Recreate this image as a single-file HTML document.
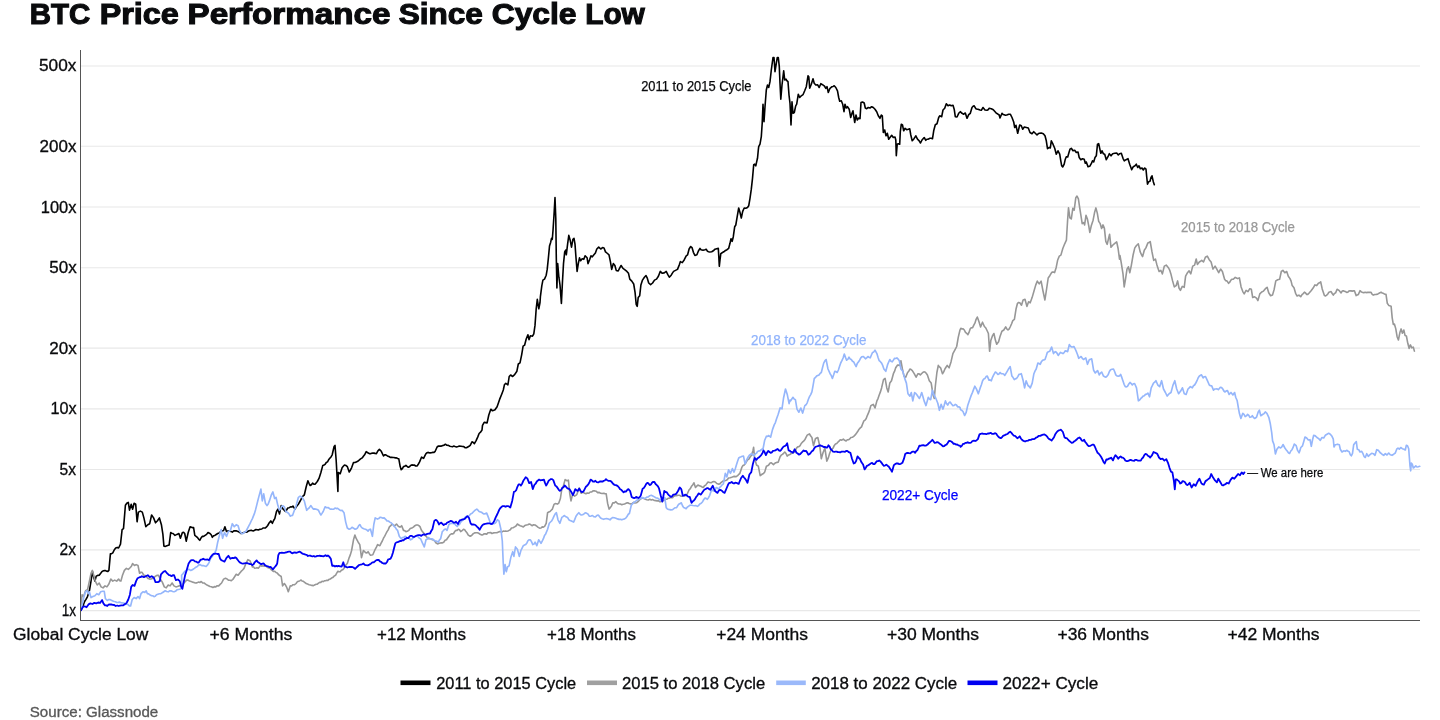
<!DOCTYPE html>
<html lang="en"><head><meta charset="utf-8"><title>BTC Price Performance Since Cycle Low</title>
<style>
html,body{margin:0;padding:0;background:#fff;}
body{width:1440px;height:720px;overflow:hidden;position:relative;font-family:"Liberation Sans",sans-serif;color:#0a0b0d;}
svg{position:absolute;left:0;top:0;}
svg text{font-family:"Liberation Sans",sans-serif;fill:#0a0b0d;}
.title{font-size:28.8px;font-weight:700;stroke:#0a0b0d;stroke-width:1.1px;}
.grid line{stroke:#e8e8e8;stroke-width:1.1;}
.yl{font-size:15.6px;stroke:#0a0b0d;stroke-width:0.3px;}
.xl{font-size:15.6px;stroke:#0a0b0d;stroke-width:0.3px;}
.lg{font-size:15.8px;stroke:#0a0b0d;stroke-width:0.3px;}
.an{font-size:14.1px;stroke-width:0.25px;}
.an2{font-size:12.3px;stroke-width:0.25px;}
svg text.src{font-size:14px;fill:#585858;stroke:#585858;stroke-width:0.3px;}
.ln{fill:none;stroke-linejoin:round;stroke-linecap:round;}
</style></head><body>
<svg width="1440" height="720" viewBox="0 0 1440 720">
<g class="grid">
<line x1="81" x2="1420" y1="66.03" y2="66.03"/>
<line x1="81" x2="1420" y1="146.32" y2="146.32"/>
<line x1="81" x2="1420" y1="207.06" y2="207.06"/>
<line x1="81" x2="1420" y1="267.8" y2="267.8"/>
<line x1="81" x2="1420" y1="348.09" y2="348.09"/>
<line x1="81" x2="1420" y1="408.83" y2="408.83"/>
<line x1="81" x2="1420" y1="469.57" y2="469.57"/>
<line x1="81" x2="1420" y1="549.86" y2="549.86"/>
<line x1="81" x2="1420" y1="610.6" y2="610.6"/>
</g>
<path class="ln" stroke="#000" stroke-width="1.6" d="M81.1 610.2 L82.3 606.9 L83.4 604.8 L84.6 601.5 L86 599.4 L87.5 596.6 L89.4 590.8 L91 581.1 L92.4 571.4 L93.7 577.2 L94.9 581.1 L96.2 576.2 L97.7 575.4 L99.2 575.2 L100.7 573.3 L102.1 571.4 L103.5 570.8 L105 570.4 L106.5 571.1 L107.9 571.4 L108.9 570.4 L110.4 553.9 L111.6 553.7 L112.8 552.9 L114.2 550 L115.7 548 L117.2 547.4 L118.6 548 L120.5 544.1 L122.1 529.6 L123.5 528.6 L125.4 505.3 L126.8 503.3 L128.3 502.4 L129.5 510.1 L131.2 504.3 L132.6 509.2 L134.1 503.3 L135.7 504.3 L137.1 521.8 L138.4 512.1 L140.4 511.1 L142.3 512.1 L143.9 517.9 L145.8 526.7 L147.8 524.7 L149.7 523.7 L151.6 515 L153.6 517.9 L155.5 522.8 L157.5 520.8 L159.4 517.9 L161.4 524.7 L162.9 534.4 L163.9 546.1 L165.1 546.5 L166.2 546.1 L167.6 545.5 L169.1 545.1 L170.7 532.5 L171.8 533.3 L173 533.5 L175 535.4 L176.9 534.4 L178.9 533.5 L180.4 538.3 L182.4 532.5 L183.6 532.4 L184.7 533.5 L186.2 541.2 L188.2 532.5 L190.1 526.7 L192.1 527.6 L193.6 527.6 L194.8 535.4 L196.1 536.3 L197.3 537.3 L198.6 539.1 L199.8 540.3 L201 538 L202.2 536.4 L203.6 536.4 L205.1 535.4 L206.6 534.4 L208 532.5 L210 533.5 L211.2 534.8 L212.3 537.3 L213.6 535.8 L214.8 535.4 L216.2 534.5 L217.7 533.5 L219.1 533 L220.6 531.5 L222.1 530.9 L223.6 530.5 L224.9 526.7 L226.5 531.5 L227.9 530.9 L229.4 530.9 L230.9 531.4 L232.3 532.1 L233.8 530.9 L235.2 530.9 L236.6 530.9 L238.1 531.5 L239.6 532.4 L241.1 533.5 L242.6 533 L244 532.5 L245.4 532 L246.9 532.1 L248.4 531 L250 530.5 L251.2 530.3 L252.3 530.7 L253.5 530.9 L254.7 530.2 L255.9 529.5 L257.1 529.7 L258.3 529.9 L259.4 529.4 L260.6 529.2 L261.8 529 L263 528 L264.2 528 L265.4 528 L266.5 526.9 L267.7 525.5 L268.9 523.3 L270.8 520.9 L272.4 523.3 L273.6 520.5 L274.8 518.6 L276.5 511.5 L277.9 509.1 L279.5 513.9 L281.2 505.6 L283.1 509.1 L284.2 510.1 L285.4 511.5 L286.6 510 L287.8 508 L289.2 507.7 L290.6 506.8 L291.8 507 L293 506.1 L294.9 509.1 L296 507.3 L297.2 505.6 L298.4 504.2 L299.6 502 L300.8 499.9 L302 497.3 L303.1 495.9 L304.3 495 L306.2 486.7 L307.9 480.8 L309 483.3 L310.2 485.5 L311.4 484.8 L312.6 483.1 L313.8 484.1 L315 484.3 L316.1 482.9 L317.3 481.5 L319 478.4 L320.9 472.5 L322.8 465.4 L324 465 L325.1 464.3 L326.3 462.5 L327.5 461.9 L328.6 459.8 L329.8 458.3 L331 456.9 L332.2 454.8 L334.1 446.5 L335 445.4 L336.2 460.7 L337.9 491.4 L338.3 472.5 L340.2 473.7 L342.1 467.8 L343.3 466.3 L344.5 465 L345.9 465.4 L347.3 466.6 L349.2 472 L350.4 470 L351.6 467.8 L353.5 462.6 L354.9 462.5 L356.3 461.9 L357.7 461.3 L359.1 460.2 L360.6 458.9 L362.2 457.9 L363.4 456.3 L364.6 454.8 L366.2 451.7 L367.8 452.7 L369.3 453.6 L370.5 453.8 L371.6 453.3 L372.8 453.1 L374 453.1 L375.2 453.4 L376.4 453.6 L377.9 450.9 L379.4 449.4 L381.3 451.3 L383.5 456 L384.6 454.9 L385.8 454.8 L387.4 455.9 L388.9 456.5 L390.3 457.4 L391.7 457.2 L392.9 457.5 L394.1 457.5 L395.3 457.9 L396.5 457.8 L397.6 458.5 L398.8 458.8 L400.2 466.6 L401.2 469.7 L402.4 468.7 L403.5 466.6 L404.7 466.3 L405.9 465.4 L407.1 466.4 L408.3 467.3 L409.5 466.8 L410.6 465.4 L411.8 464.9 L413 465.1 L414.2 465 L415.7 466 L417.2 465.9 L418.4 464 L419.6 461.9 L421.5 457.2 L423.6 458.3 L424.8 455.9 L426 453.6 L427.1 452.7 L428.3 452.4 L430 452.9 L431.4 452.7 L432.8 452.4 L434 452.4 L435.2 451.3 L437.1 447 L438.5 446 L439.9 446.1 L441.4 446.1 L443 445.4 L444.2 445.2 L445.4 444.2 L446.9 445.3 L448.4 445.4 L449.9 446.2 L451.3 446.5 L452.5 446.7 L453.6 446.1 L455.1 446.6 L456.5 447 L458 446.6 L459.5 446.1 L461.1 446.2 L462.6 446.5 L463.8 446.6 L465 447.7 L466.4 447.8 L467.8 447 L469 446.3 L470.2 445.4 L472 441.8 L473.2 442.4 L474.4 443.7 L476.1 440.6 L477.7 437.1 L479.1 433.5 L480.8 431.9 L482 430 L482.5 425.4 L484.2 422.3 L485.6 422.6 L487.1 422.9 L488.8 415 L490.8 409.2 L492.5 410.8 L493.8 410.3 L495 409.8 L497.1 406.7 L498.4 402.9 L499.6 399.4 L501.7 394.2 L503.3 390 L504.4 384.8 L505.8 383.3 L507.9 384.8 L509.2 376.5 L510.6 375 L512.7 376.5 L514.8 374.4 L516.9 371.2 L518.3 364 L520 362.9 L521.7 354.6 L523.1 346.2 L524.6 345.2 L526.2 339 L527.9 334.8 L529 339.6 L530.4 335.8 L532.5 336.2 L533.8 333.8 L535 325.4 L536.2 308.8 L537.3 299.4 L538.8 308.8 L540 302.5 L540.4 296.6 L541.8 285.9 L542.9 280.1 L544.5 279.1 L546.2 275.2 L547.2 269.4 L548.4 257.8 L549.5 246.1 L550.7 242.2 L551.5 238.3 L552.3 239.3 L553 230.5 L554 215 L555 197.5 L555.8 218.9 L556.3 257.8 L556.9 287.9 L557.7 263.6 L558.9 277.2 L560 285 L561.4 303.4 L562.4 283 L563.5 263.6 L564.7 251.9 L565.7 250 L566.3 254.8 L567.6 244.1 L568.8 235.4 L570.2 240.3 L571.5 247.1 L572.9 239.3 L574 238.3 L575 244.1 L576 257.8 L577.1 271.4 L578.3 263.6 L579.5 257.8 L580.6 260.7 L582.2 258.7 L583.8 259.3 L585.1 255.8 L587.1 257.8 L588 263.6 L589.6 259.7 L591 255.8 L592.3 256.8 L593.9 254.8 L595.4 252.9 L596.8 249 L598.7 247.1 L600.7 249 L602.6 247.6 L604 248 L605.5 251.9 L607.5 253.5 L609 254.8 L610.4 261.6 L611.7 269.4 L613.3 263.6 L614.9 265.5 L616.2 270.4 L618.2 271 L619.5 268.4 L621.1 265.5 L623 268.4 L625 269.8 L626.9 271.4 L628.5 273.3 L629.8 279.1 L631.8 281.1 L633.7 284 L635.1 292.7 L636.2 304.4 L637.2 306.3 L638.2 297.6 L639.7 295.7 L640.9 285 L642.5 280.1 L644.4 277.2 L646 275.6 L647.3 278.2 L648.7 283 L650.6 284.6 L652.6 283 L654.5 280.1 L656.5 279.1 L658.4 276.2 L660.3 271.4 L662.3 273.3 L664.2 272.9 L666.2 271.4 L667.7 274.3 L669.3 277.2 L671.2 275.2 L672.4 273.1 L673.6 271.4 L675.5 270.4 L677.5 269.4 L679.4 264.6 L680.4 261.6 L682.3 262.6 L684.3 259.7 L686.2 255.8 L687.6 254.8 L689.1 249 L690.7 246.5 L692 247.6 L693.4 252.3 L694.9 255.4 L696.9 254.8 L698.4 251 L700 248.4 L701 249.7 L703 250.3 L705 249.7 L706.2 249.2 L707.5 251.3 L708.6 251.7 L709.7 252 L711.7 251.7 L713.3 250.8 L715 249.2 L716.7 248.7 L718.3 248.3 L718.8 256.7 L719.3 266.3 L720 260 L720.8 253.7 L722.5 252.5 L723.8 251.8 L725 250.8 L727 249.7 L728.7 248.3 L730 243.3 L731 238.7 L732.2 241.3 L733.3 236.7 L734.7 226.7 L735.8 225 L737.2 216.7 L738.7 208 L740 212.5 L741.3 218 L742.7 211.3 L744.2 208 L745.8 208.3 L747.5 207.5 L748.7 205.8 L750 198.3 L751.3 189.2 L752.5 178.3 L753.7 164.7 L754.7 164.2 L755.8 165.8 L756.7 161.7 L757.5 158.3 L758.3 150 L758.7 146.7 L760 144.2 L761.3 136.7 L762.2 123.3 L763 104.2 L764 121.7 L765 106.7 L766.3 90 L767.5 85 L768.7 87.5 L770 81.7 L771.3 70 L773 57.5 L774 57.5 L775 71.7 L776.3 63.3 L777.3 57.5 L778.3 57.5 L779.3 66.7 L780 83.3 L780.8 99.2 L782 85 L783.7 70.8 L784.7 80 L786 79.2 L787 80.8 L788 81.7 L789 95 L790 103.3 L791 125 L792 101.7 L793 113.3 L794.3 112.5 L795.7 105.8 L796.7 104.2 L798.3 94.2 L799.7 97.5 L801.3 95.8 L803 94.7 L804.7 90.8 L806.3 86.7 L808 75.8 L808.8 76.7 L809.7 88.3 L811.3 84.2 L813 78.7 L814.2 83.3 L815.8 85 L817.5 84.7 L819.2 87.5 L820.8 83.7 L822.5 84.7 L824.2 85.8 L825.8 88.3 L827 86.7 L828.3 92.5 L830 88.3 L832 86.7 L833.1 86.4 L834.2 85.8 L835.8 87.5 L837.5 90.8 L838.7 97.5 L839.7 101.3 L841.3 100.8 L842.7 104.2 L844 111.7 L845 104.2 L846.3 108 L847.5 106.7 L849.2 109.2 L850.7 117.5 L852 113.3 L853 110.8 L854.7 122.5 L856 115 L857.3 120 L858.7 118 L860 118.7 L861 102.5 L862.5 102 L864.2 103 L865.3 108 L866.7 108.7 L868.3 107.5 L870 108 L871.7 106.7 L873.3 107.5 L875 109.2 L876.7 111.7 L878.3 115.8 L880 118.3 L881.3 115 L882.3 115.8 L883.3 132.5 L884.7 130 L886 135.8 L887.3 133.3 L888.7 139.2 L890 137.5 L891.7 135.3 L893.3 137.5 L895 137 L895.8 140 L896.3 155.8 L897.2 144.2 L898.3 143.7 L899.7 144.2 L900.3 131.7 L901.3 124.2 L902.5 125 L903.7 130.8 L905 128.3 L906.7 129.7 L908.3 129.2 L909.7 128.7 L910.8 135 L912.2 140.8 L913.7 139.2 L915.8 135.8 L917.5 139.2 L919.2 140.8 L920.5 143 L922 140 L923.1 138.7 L924.2 137.5 L925.8 140.3 L926.9 139.2 L928 139.2 L930 138.3 L931.2 138.2 L932.5 138.7 L933.7 130.8 L935.3 124.7 L937 123.7 L938.7 117.5 L939.7 115.8 L941.7 116.7 L943 110 L944.7 108.3 L946.3 103.7 L948 105.8 L949.7 105 L951.3 105.8 L953 105.3 L954.2 109.2 L955.3 116.7 L957 117 L958.7 113.3 L960.3 111.7 L962 113.3 L963.7 114.2 L965.3 113 L967 118.3 L968.7 114.7 L970.3 113.3 L972 107.5 L973.1 106.3 L974.2 105.8 L975.8 108.7 L976.9 109.1 L978 109.2 L980 110 L981.3 110.3 L983 107.5 L985 110 L987 110.3 L988.1 109.7 L989.2 108.3 L991.3 108.7 L993.3 109.7 L995.3 112 L996.4 113.3 L997.5 113.8 L999.2 115 L1000 118 L1002 113.3 L1003.1 114.4 L1004.2 114.7 L1005.5 115.2 L1006.7 115 L1008.7 114.2 L1010.3 114.2 L1012 117.5 L1013.7 122 L1014.7 127.5 L1016 125.3 L1017.7 133.3 L1019.7 125 L1021.3 125.8 L1022.7 129.2 L1024.3 127 L1026.3 127.5 L1028.3 128 L1030 132.5 L1032 133.7 L1033.7 131.7 L1035.3 133.3 L1037 135 L1038.1 133.9 L1039.2 133.3 L1041.3 133 L1043.3 133.7 L1045 135.8 L1046.3 140.8 L1047.5 148.7 L1049.2 147.5 L1050.3 148 L1051.3 140.8 L1053 144.2 L1054.7 148.3 L1056.3 154.2 L1058 150.8 L1059.7 154.2 L1060.8 160.8 L1061.7 165.8 L1062.7 167 L1064.2 164.2 L1065.3 159.2 L1066.3 156.7 L1067.7 157 L1069.2 151.7 L1070 149.2 L1071.3 148.3 L1073 150.8 L1074.7 150.3 L1076.3 152.5 L1078 152 L1079.2 157.5 L1080.8 159.7 L1082.5 158.7 L1084.2 159.2 L1085.3 163.3 L1086.3 162 L1088 166.7 L1089.7 166.3 L1091.3 163.7 L1092.5 160.8 L1093.7 162 L1095 157.5 L1096.3 155.8 L1097.5 144.2 L1098.7 143.7 L1099.7 148.3 L1100.8 153.3 L1102 150.8 L1103.3 153.7 L1104.7 154.2 L1106.3 159.7 L1108 156.7 L1109.3 153.7 L1111 155.8 L1112.7 153.7 L1114.7 153.3 L1116.7 153 L1118.3 155 L1119.7 153.7 L1121.3 153.3 L1123 158.3 L1124.3 160.8 L1126 159.7 L1128 158.7 L1129.7 164.2 L1131.7 169.7 L1133.3 166.7 L1135 165.8 L1136.3 164.2 L1137.7 167.5 L1139 165.8 L1140.3 168.7 L1142 168 L1143.3 170 L1144.7 168 L1146 169.2 L1146.7 176.7 L1147.5 184.2 L1148.7 181.7 L1150 181.3 L1151 177.5 L1152 175.8 L1153.3 181.7 L1154.3 184.7"/>
<path class="ln" stroke="#979797" stroke-width="1.6" d="M81.1 604.4 L82.1 594.7 L83.6 596.6 L85.6 590.8 L87.5 589.8 L89.4 581.1 L91 573.3 L92.4 570.4 L93.7 575.2 L95.3 581.1 L97.2 585 L99.2 583 L101.1 586.9 L103 587.9 L105 585.9 L106.9 586.9 L108.9 584 L110.8 579.1 L112.8 581.1 L114.7 580.1 L116.7 581.1 L118.6 579.1 L119.8 580.7 L120.9 581.1 L122.5 575.2 L124.4 570.4 L126.4 568.4 L128.3 569.4 L130.3 567.5 L131.4 566.2 L132.6 563.6 L134.5 565.5 L136.1 564.6 L138 565.5 L139.6 573.3 L140.8 572.2 L141.9 572.3 L143.9 575.2 L145.4 575.6 L146.8 577.2 L148.2 578.6 L149.7 579.1 L151.1 579 L152.6 578.2 L154.1 577.4 L155.5 576.2 L156.9 575.4 L158.4 575.2 L160.4 579.1 L162.3 582.1 L164.3 586.9 L166.2 587.9 L168.2 585 L170.1 585.9 L172.1 583 L174 585.9 L175.9 586.9 L177.4 586.5 L178.9 585.9 L180.4 585.6 L181.8 585 L183.2 583.7 L184.7 582.1 L186.6 580.1 L188.1 580.1 L189.5 581.1 L191 581.5 L192.5 582.1 L193.9 582.4 L195.4 583 L196.9 582.9 L198.3 582.1 L199.8 582.5 L201.2 581.5 L202.6 582.9 L204.1 583 L205.6 584.1 L207 585 L208.5 585.7 L210 586.5 L211.4 586.7 L212.9 587.5 L214.4 586.6 L215.8 586.9 L217.2 585.7 L218.7 585.9 L220.1 584.4 L221.6 583 L223.6 579.1 L225.5 578.2 L226.9 578.9 L228.4 580.1 L229.9 580.2 L231.3 580.7 L232.8 579.5 L234.3 577.2 L236.2 574.3 L238.1 575.2 L239.6 573.3 L241.1 571.4 L242.6 570 L244 568.4 L245.9 563.6 L247.9 559.7 L250 560.7 L251.2 563.5 L252.4 567 L253.6 566.9 L254.7 568.2 L255.9 568 L257.1 567.7 L258.3 568.2 L259.5 566.7 L260.6 565.1 L261.8 566.1 L263 565.8 L264.2 566.3 L265.3 565.8 L266.5 566.5 L267.7 567.6 L268.9 568 L270.1 568.2 L271.2 569.7 L272.4 570.6 L273.6 571.5 L274.8 571.3 L276 572.5 L277.2 572.9 L278.4 574.5 L279.5 575.3 L281.2 576.5 L282.6 585.9 L284.3 583.5 L285.5 585.1 L286.6 587.1 L288.3 591.8 L290.2 585.9 L291.6 586 L293 584.7 L294.6 584.7 L296.1 583.5 L297.2 581.9 L298.4 581.2 L299.6 581 L300.8 580 L302 580.9 L303.1 581.2 L304.6 582.3 L306.2 583.5 L307.6 584.1 L309.1 584.7 L310.5 585 L311.9 585.4 L313.4 585.6 L315 584.7 L316.2 584.2 L317.3 584.1 L318.5 583.1 L319.7 582.3 L320.8 582.4 L322 581.2 L323.2 581.6 L324.4 580.8 L325.6 580.7 L326.8 580.3 L327.9 580.4 L329.1 579.3 L330.3 579 L331.5 578.1 L332.7 577.6 L334.1 576.1 L335.5 575.3 L336.7 573.1 L337.9 571.3 L339 571.8 L340.2 571.7 L341.4 570.3 L342.6 569.8 L343.8 568.7 L345 566.5 L346.1 564.7 L347.3 563.5 L349.2 557.6 L350.4 554.6 L351.6 550.5 L353.5 539.8 L354.9 535.1 L356.3 538.7 L358.2 542.2 L359.8 544.6 L361.5 557.6 L363.4 550.5 L364.5 551.4 L365.7 552.8 L366.9 552.9 L368.1 551.7 L369.3 553.7 L370.5 555.2 L371.6 555 L372.8 554.7 L374 552 L375.2 549.3 L376.4 547.2 L377.6 544.6 L378.8 545.3 L379.9 545.7 L381.1 543.1 L382.3 541 L383.5 538.2 L384.6 536.3 L385.8 534 L387 531.6 L388.2 529.9 L389.4 526.9 L390.5 525.9 L391.7 524.5 L392.9 524.5 L394.1 525.7 L395.3 525.3 L396.5 524 L397.9 525.8 L399.3 526.9 L400.5 526.9 L401.7 525.7 L403.5 530.4 L404.7 530.6 L405.9 531.6 L407.3 531.3 L408.7 530.4 L410.2 528.6 L411.8 528 L413.4 527.1 L414.9 525.7 L416.3 525 L417.7 525 L418.9 525.6 L420.1 526.9 L421.2 529.8 L422.4 531.6 L423.6 532.8 L424.8 535.1 L426 536.3 L427.2 537.5 L428.6 538.6 L430 538.7 L431.2 538.9 L432.4 539.8 L433.5 540 L434.7 541 L436.1 543 L437.6 543.9 L439.1 543.3 L440.6 542.9 L442.1 542.9 L443.7 542.2 L445.1 540.3 L446.5 539.8 L447.7 537.9 L448.9 536.3 L450.1 534.6 L451.3 533.9 L452.5 533.9 L453.6 533.5 L454.8 531.4 L456 530.4 L457.1 530.4 L458.3 529.2 L459.5 529.7 L460.7 531.6 L462.1 530.7 L463.5 529.2 L464.7 529.7 L465.9 531.6 L467.1 533 L468.3 535.1 L470.2 536.3 L471.6 535.5 L473 533.9 L474.6 532.9 L476.1 532.8 L477.6 532.7 L479.1 533.5 L480.6 534.6 L482 535.1 L483.2 534.5 L484.3 533.7 L485.5 533.9 L486.7 534.2 L487.9 532.7 L489.1 532.8 L490.5 532.5 L491.9 533.5 L493.4 532.9 L495 532.8 L496.2 532.7 L497.3 532.6 L498.5 532 L499.7 531.5 L500.8 531.8 L502 532 L503.2 531 L504.4 531.3 L505.6 531.1 L506.8 531.2 L507.9 531 L509.1 530.4 L510.3 529.8 L511.5 528 L513 527.8 L514.6 526.9 L516 526 L517.4 524 L518.8 525.1 L520.2 525.7 L521.8 526.3 L523.3 526.9 L524.8 525.6 L526.4 525 L527.8 524.7 L529.2 524 L530.6 524.6 L532 525.7 L533.5 524.8 L535.1 525 L536.7 526.1 L538.2 527.3 L539.6 528.2 L541 528 L542.2 526.9 L543.4 527.1 L544.6 526.4 L546.2 523.3 L547.6 512.7 L548.8 512 L550 511.5 L551.2 510.3 L552.4 509.1 L554 504.4 L555.2 503.6 L556.4 503.7 L557.5 504.1 L558.7 503.2 L560.4 498.5 L561.8 489.1 L563.5 485.5 L565.1 479.6 L567 480.8 L568.4 480.1 L569.8 493.8 L571 500.9 L572.4 495 L573.5 495.2 L574.6 496.1 L575.8 495.3 L576.9 494.3 L578.1 491 L579.3 487.9 L581.2 493.3 L582.4 492.3 L583.5 492.6 L584.7 493.3 L585.9 493.8 L587.3 493 L588.7 493.3 L590.2 492 L591.8 491.9 L593.3 490.7 L594.9 490.9 L596.3 491.3 L597.7 492.6 L599.2 492.4 L600.6 493.3 L602.1 493.5 L603.6 493.3 L604.9 493.6 L606.2 493.8 L607.6 503.2 L609.1 509.1 L610 508 L611.4 506.1 L612.8 502.8 L614.3 502.9 L615.9 501.7 L617.5 503.5 L619 504 L620.4 504 L621.8 504.7 L623.2 504.3 L624.6 504 L626.2 503.1 L627.7 502.8 L629.2 503.5 L630.8 504 L632.2 503.4 L633.6 502.4 L635 503 L636.5 502.8 L638 501.7 L639.5 500 L641 498.7 L642.6 498.1 L644 498.6 L645.4 499.3 L646.8 499.7 L648.3 500 L649.8 499.3 L651.3 500 L652.8 499.6 L654.4 500.5 L655.8 500.6 L657.2 500.9 L658.4 500.6 L659.6 501.7 L660.8 501.7 L662.3 500.7 L663.9 500.5 L665.3 499.3 L666.7 499.3 L668.1 498.3 L669.5 498.1 L671 497.5 L672.6 497.6 L673.8 496.3 L675 495.7 L676.2 495.6 L677.3 495.4 L678.5 495.3 L679.7 495.3 L680.8 496.1 L682 496.2 L683.5 495.5 L685.1 495.7 L686.3 495.1 L687.5 493.4 L689.1 489.8 L690.3 488.7 L691.5 486.3 L692.7 484.9 L693.9 482.8 L695.5 487.5 L696.7 486.2 L697.9 485.1 L699.4 485.7 L700.9 486.3 L702.1 487 L703.3 487.5 L704.5 485.7 L705.7 485.1 L706.9 483.4 L708 482 L709.5 482.4 L711.1 482.8 L712.5 481.8 L713.9 481.6 L715.3 482 L716.8 483.5 L718.3 484.1 L719.8 483.9 L721.3 482.3 L722.9 481.1 L724.3 480.8 L725.7 480.4 L727.2 479.8 L728.6 478 L730.2 477.8 L731.7 477.3 L733.2 476.6 L734.7 476.4 L736.2 476.7 L737.6 475.7 L738.8 474.3 L739.9 473.3 L741.8 467.4 L743 465.5 L744.2 465 L745.4 463.5 L746.5 461.5 L747.7 459.7 L748.9 459.1 L750.1 457.1 L751.3 455.6 L752.9 450.9 L753.6 447.3 L754.6 458 L756.5 465 L758.3 466.2 L760.2 475.7 L762.4 474 L763.5 473.5 L764.7 472.1 L766.4 466.2 L767.5 465.8 L768.7 465 L769.9 463.2 L771.1 462.7 L772.3 463.6 L773.5 464.6 L774.6 463.5 L775.8 462.7 L777 462.4 L778.2 462.2 L780.1 456.8 L781.2 455.2 L782.4 454.4 L783.6 453.3 L784.8 452 L786 453.5 L787.2 456.1 L788.6 454.9 L790 454.4 L790.6 454 L791.8 453.2 L793 452.8 L794.2 452.3 L795.4 450.5 L796.5 448.1 L797.7 446.9 L798.9 446.7 L800.1 445.7 L801.2 443.5 L802.4 442.2 L803.6 441.1 L804.8 439.8 L806 437.3 L807.2 435.1 L808.4 434.4 L809.5 433.9 L810.7 436.1 L811.9 437.5 L813.5 445.7 L815.4 438.7 L816.6 438 L817.8 437.5 L819.7 445.7 L821.3 458.7 L823 452.8 L824.9 448.1 L826.8 461.1 L828.4 457.6 L829.6 453.5 L830.8 450.5 L832 448.8 L833.1 448.1 L834.3 445.4 L835.5 443.9 L836.7 443.5 L837.9 442.2 L839 441.2 L840.2 439.8 L841.8 440.1 L843.3 439.1 L844.7 440.3 L846.1 441 L847.3 439.7 L848.5 439.8 L849.7 438.9 L850.9 437.5 L852.3 437.3 L853.7 436.3 L855.2 434.9 L856.8 432.8 L858 431 L859.1 429.2 L860.3 427.9 L861.5 426.9 L862.7 423.8 L863.9 420.9 L865 420.2 L866.2 418.6 L867.4 415.3 L868.6 412.7 L869.8 409.2 L870.9 405.6 L872.1 405 L873.3 404.4 L875 408 L876.9 400.9 L878 398.6 L879.2 395 L880.4 391.9 L881.6 387.9 L883.5 379.6 L885.1 378.4 L886.8 387.9 L888.2 391.9 L889.8 383.1 L891.5 380.8 L893.4 373.7 L894.5 371.4 L895.7 367.8 L897.6 365 L899.3 365.4 L900.9 360.7 L902.4 369 L904 376.1 L905.7 377.2 L907.6 372.5 L908.8 371.2 L909.9 369 L911.1 369.5 L912.3 370.6 L914.2 373.7 L916.1 377.2 L918 373.7 L919.1 373.9 L920.3 374.9 L921.5 373.7 L922.7 372.5 L923.9 371.9 L925 372 L926.2 373.3 L927.4 374.9 L929.3 380.8 L931.2 383.1 L933.1 395 L934.3 398.5 L935.4 385.5 L936.9 372.5 L938.3 365.4 L939.5 366.9 L940.6 367.8 L942.5 373.7 L943.7 371.9 L944.9 369 L946 367.3 L947.2 365.4 L949.1 367.8 L951 361.9 L952.9 353.6 L954.8 350.1 L956.7 346.5 L958.3 337.1 L960 330 L960.8 328.3 L962 329 L963.1 328.8 L964.3 330 L965.5 332.4 L966.7 333.3 L967.9 334.7 L969 332.4 L970.2 328.8 L971.4 327.7 L972.6 327.6 L973.8 325.1 L975 322.9 L976.1 319.3 L977.3 317 L979 321.7 L980.6 326.9 L982.5 322.2 L984.4 326.5 L985.6 327.7 L986.8 330 L988.4 333.5 L989.6 351.3 L990.8 340.6 L992.4 335.9 L993.9 333.5 L995.5 340.6 L996.7 344.2 L998.6 341.8 L1000.2 335.9 L1001.9 331.2 L1003.8 330 L1005.7 326.9 L1006.9 329 L1008 330 L1009.2 328.9 L1010.4 326.5 L1011.6 323.8 L1012.8 320.6 L1014.4 319.4 L1016.1 308.7 L1017.5 303.3 L1018.6 302.5 L1019.8 302.8 L1021.5 305.2 L1023.1 300 L1025 299.3 L1026.9 306.4 L1028.6 301.7 L1030.2 302.8 L1032.1 297.6 L1034 291 L1035.7 285.1 L1037.3 281.1 L1039.2 283.9 L1041.1 281.1 L1043 291 L1044.9 300 L1046.3 291 L1048.2 278 L1049.8 275.7 L1051 273.6 L1052.2 272.1 L1053.4 272 L1054.6 272.6 L1056.2 267.4 L1057.6 260.3 L1059.3 256.1 L1060.9 255.1 L1062.8 248.5 L1064.7 243.8 L1066.4 240.2 L1067.6 220.2 L1068.5 207.9 L1069.9 217.8 L1071.3 219 L1072.8 208.3 L1074.2 210.2 L1075.8 197.7 L1077 196.1 L1078.4 198.9 L1079.8 208.3 L1081.3 217.8 L1082.2 223.7 L1083.6 222.5 L1084.6 224.9 L1086 215.4 L1087.4 219 L1088.8 226.1 L1089.8 232.4 L1091.2 226.1 L1093.1 220.2 L1094.7 211.9 L1095.9 207.9 L1097.3 213.1 L1098.7 221.3 L1100.2 223.7 L1101.6 228.4 L1103 224.9 L1104.4 228.4 L1105.8 241.4 L1107.2 244.3 L1108.7 237.9 L1109.6 234.3 L1111 247.3 L1112.9 245 L1114.8 243.3 L1116.7 241.9 L1118.1 248.5 L1119.5 259.1 L1120 255.6 L1121.3 263.2 L1123 273.9 L1124.2 286.9 L1125.6 278.6 L1127 269.1 L1128.4 266.8 L1129.8 272.7 L1131.3 265.6 L1133.1 255 L1134.8 247.9 L1136.5 245.5 L1138.3 243.9 L1140.2 251.9 L1141.4 254.5 L1142.6 256.6 L1144.3 250.2 L1145.9 247.9 L1147.8 243.1 L1149 242.6 L1150.2 241.5 L1152 251.9 L1153.7 260.4 L1155.4 259 L1156.8 264.4 L1157.9 267.9 L1159.1 271.5 L1160.8 270.3 L1162.4 273.9 L1164.3 266.1 L1166.2 265.1 L1167.4 266.6 L1168.6 268 L1169.8 270.4 L1170.9 273.9 L1172.6 280.9 L1174.3 286.9 L1176.1 285.7 L1177.6 280.9 L1179 288 L1180.4 290.4 L1182.3 286.4 L1184.2 287.3 L1185.6 276.2 L1187.5 272.7 L1189.1 270.8 L1190.8 273.9 L1192.7 266.1 L1194.6 265.1 L1196.2 259 L1197.4 264.4 L1199.3 262 L1200.5 261.3 L1201.7 260.4 L1203.5 262 L1205.4 257.3 L1207.3 256.1 L1209.2 259.7 L1211.1 262 L1213 269.1 L1215.1 266.1 L1216.8 269.1 L1218.7 272.7 L1220.6 269.1 L1222.4 271.5 L1224.6 279.3 L1225.8 280.7 L1226.9 280.9 L1228.6 283.3 L1229.8 282.1 L1230.9 280.2 L1232.1 279.2 L1233.3 279.3 L1235.2 277.4 L1236.4 278 L1237.6 278.6 L1239.4 277.9 L1241.1 286.9 L1242.8 291.6 L1244.2 293.9 L1246.1 290.4 L1248 291.6 L1249.8 288.7 L1251.3 289.2 L1252.7 297.5 L1254.6 296.8 L1256.5 298.2 L1257.9 300.6 L1259.8 293.9 L1261.7 292 L1263.5 291.1 L1265.4 288.7 L1267.1 287.3 L1268.7 292.8 L1270.6 295.8 L1272.5 295.1 L1274.2 289.2 L1275.8 280.9 L1277.7 279.8 L1279.6 279.3 L1281.3 271.5 L1282.9 270.3 L1284.8 272.7 L1286.7 271.5 L1288.3 276.2 L1290 278.6 L1291.1 281.1 L1292.2 285.6 L1294 287.8 L1295.6 293.3 L1297.1 296 L1298.9 295.1 L1300.7 296.7 L1302.2 294.4 L1303.3 293.6 L1304.4 292.2 L1305.6 293 L1306.7 294.4 L1307.8 294.4 L1308.9 293.3 L1311.1 290.7 L1312.2 289.2 L1313.3 287.8 L1314.9 284.9 L1316.7 285.6 L1318.4 283.3 L1319.6 282.8 L1320.7 281.8 L1322.2 288.9 L1323.3 292.2 L1324.4 295.6 L1325.6 296 L1326.7 295.1 L1327.8 294 L1328.9 292.2 L1331.1 291.6 L1332.2 293.5 L1333.3 295.1 L1334.4 293.5 L1335.6 292.9 L1337.1 289.3 L1338.2 289.9 L1339.3 290.7 L1341.1 292.9 L1342.2 291.1 L1343.3 290.7 L1344.4 291.3 L1345.6 291.6 L1346.7 292.4 L1347.8 292.2 L1348.9 291 L1350 290.7 L1351.1 290.9 L1352.2 291.1 L1353.3 290.9 L1354.4 290.7 L1356.2 295.6 L1357.3 294.9 L1358.4 294.4 L1360 290.7 L1361.1 291.7 L1362.2 292.2 L1363.7 292.8 L1365.1 292.2 L1366.4 292.6 L1367.8 292.4 L1369.4 292.4 L1371.1 292.4 L1372.2 294.4 L1373.3 295.1 L1374.8 294.5 L1376.2 294.4 L1377.6 294.2 L1378.9 293.3 L1381.1 292.2 L1382.2 293 L1383.3 293.3 L1384.7 294.2 L1386 294.4 L1387.3 303.3 L1388.9 305.6 L1391.1 306.2 L1392.2 317.8 L1393.3 324.4 L1394.4 324 L1395.8 328.9 L1397.1 336.7 L1398.4 340 L1400 332.2 L1401.1 328.9 L1402.4 333.3 L1403.8 330 L1405.1 335.6 L1406.4 336 L1407.8 343.3 L1409.1 348.4 L1410.4 344.9 L1411.8 347.8 L1413.3 347.1 L1414.4 351.1"/>
<path class="ln" stroke="#95b6fb" stroke-width="1.65" d="M81.1 609.3 L82.6 602.5 L84 596.6 L85.6 591.8 L87.1 590.8 L88.5 593.7 L89.4 591.8 L91 597.6 L92.9 596.6 L94.9 595.7 L96.8 593.7 L98.8 594.7 L100.7 591.8 L102.7 591.2 L104.2 591.2 L105.4 598.6 L107.3 600.5 L108.5 599.6 L109.8 599.5 L111.8 600.5 L113 601.1 L114.3 601.5 L115.5 601.8 L116.7 602.5 L118.2 602.4 L119.6 602.1 L121 602.7 L122.5 602.9 L124 603 L125.4 604.4 L126.9 603.9 L128.3 604.8 L129.4 605.9 L130.6 606 L132.2 599.5 L134.1 597.6 L136.1 598.6 L138 596.6 L139.6 598.6 L141 593.7 L142.9 591.8 L144.8 592.4 L146.2 590.8 L147.4 593.7 L148.6 593.9 L149.7 594.7 L151.6 595.7 L152.8 595.8 L154 596.6 L155.2 596.3 L156.5 594.7 L157.9 594.2 L159.4 593.7 L160.9 593.7 L162.3 592.7 L163.8 591.7 L165.2 590.8 L166.7 591.5 L168.2 591.8 L169.6 590.8 L171.1 590.8 L172.6 591.5 L174 591.8 L175.4 591.3 L176.9 589.8 L178.4 589.5 L179.8 589.2 L182 587.9 L181.6 575.2 L183.1 573.6 L184.7 571.4 L186.1 570.6 L187.6 569.4 L189.1 569.3 L190.5 570.4 L191.8 570.1 L193.1 569.2 L194.4 568.4 L195.9 567.2 L197.3 566.5 L198.8 564.9 L200.2 564.6 L201.7 565.6 L203.2 565.5 L204.6 566 L206.1 566.5 L207.6 564.9 L209 562.6 L210.9 557.8 L212.4 556.4 L213.8 553.9 L215 552.2 L216.2 550 L217.7 542.2 L219.7 534.4 L221.2 529.6 L222.6 538.3 L224.5 532.5 L226.5 536.4 L228.4 531.5 L230.4 530.5 L232.3 523.7 L234.3 526.7 L236.2 524.7 L238.1 525.7 L239.5 530.5 L241.4 533.5 L242.7 533.6 L244 532.5 L245.9 531.5 L247.9 527.6 L250 523.7 L251.2 521 L252.4 518.6 L254.3 513.9 L255.5 509.9 L256.6 505.6 L257.8 500.8 L259 496.1 L260.9 489.1 L262.3 500.9 L263.7 493.8 L265.4 503.2 L267 505.6 L268.2 503.9 L269.4 500.9 L271.3 495 L272.9 491.9 L274.6 498.5 L276 497.3 L277.9 505.6 L279.5 510.3 L280.7 508.7 L281.9 506.1 L283.1 505.9 L284.3 506.8 L285.9 511.5 L287.8 512.7 L289 513.9 L290.2 516.2 L291.4 515.5 L292.5 515.5 L294.4 510.3 L295.6 507.4 L296.8 503.2 L298.4 497.3 L300.1 496.1 L302 497.3 L303.1 499 L304.3 500.9 L305.5 505.7 L306.7 510.3 L307.9 508.9 L309.1 508 L310.9 505.6 L312.1 507.4 L313.3 509.1 L314.5 508.9 L315.7 509.1 L317.1 509.5 L318.5 510.3 L319.7 512.8 L320.9 515 L322 513.4 L323.2 511.5 L325.1 506.8 L326.6 507.7 L328 507.5 L329.2 508.3 L330.3 509.2 L331.5 509.1 L332.7 509.2 L333.8 509.1 L335 508 L336.2 508.6 L337.4 508.3 L338.6 509.1 L339.8 510 L340.9 510.6 L342.1 510.3 L344 512.7 L345.7 522.1 L347.3 528 L349.2 529.2 L350.6 528.8 L352 527.3 L353.6 528.3 L355.1 529.2 L356.3 528.9 L357.5 528 L358.6 525.8 L359.8 524.5 L361 526.7 L362.2 528 L363.8 528.7 L365.3 529.2 L366.7 529.8 L368.1 531.1 L369.3 529.5 L370.5 529.2 L372.4 536.3 L373.8 524.5 L375.2 517.9 L376.4 518.6 L377.5 519.1 L378.7 518.6 L379.9 517.4 L381.1 517.4 L382.6 518.1 L384.2 517.9 L385.6 519.3 L387 520.9 L388.4 521 L389.8 522.1 L391.4 523 L392.9 524.5 L394.1 526.3 L395.3 527.3 L396.5 529.4 L397.6 530.4 L399.3 536.3 L401.2 538.7 L402.4 537.5 L403.5 537.5 L405.4 536.3 L406.6 537.4 L407.8 538.2 L409.2 538.4 L410.6 539.8 L412.1 539 L413.5 537.5 L415.4 535.8 L416.8 536.1 L418.2 536.8 L419.4 538.3 L420.6 538.7 L422.4 542.9 L424.3 546.9 L426 539.8 L427.1 539.3 L428.3 537.5 L430 538.7 L431.4 538.9 L432.8 539.1 L434.4 540.7 L435.9 541 L437.1 541.3 L438.3 542.2 L439.5 539.9 L440.6 538.7 L442.3 531.6 L443.5 530.5 L444.6 529.2 L445.8 529.1 L447 530.4 L448.9 524.5 L450.3 523.5 L451.7 523.3 L453.2 523.5 L454.8 524 L456 525.4 L457.2 526.4 L458.4 525 L459.5 524.5 L460.7 522.1 L461.9 520.9 L463.4 519.7 L465 517.4 L466.4 516.5 L467.8 516.2 L469.2 515.7 L470.6 513.9 L472.1 513.3 L473.7 511.5 L475.2 510.1 L476.8 509.1 L478 510.2 L479.1 511.5 L480.3 511.9 L481.5 512.2 L482.7 513.3 L483.9 513.9 L485.3 513.6 L486.7 513.1 L488.6 517.9 L490.2 522.6 L491.4 523.4 L492.6 524 L493.8 523.8 L495 523.3 L496.1 522.2 L497.3 519.8 L499 520.9 L500.9 529.2 L502.3 541 L503.2 562.3 L503.9 574.1 L505.1 564.6 L506.3 571.7 L507.5 567 L509.1 565.8 L510.8 557.6 L512.7 551.7 L513.9 556.4 L515.5 546.9 L517.4 549.3 L519.3 556.4 L520.9 550.5 L522.1 548.1 L523.3 545.7 L524.5 545.1 L525.7 544.6 L526.9 542.9 L528 540.6 L529.2 539.8 L530.4 539.8 L531.6 541.9 L532.8 544.6 L534 544.1 L535.1 542.2 L536.8 545.7 L538.7 539.8 L539.9 541.6 L541 543.4 L542.2 541.1 L543.4 538.7 L544.5 535.6 L545.7 533.9 L547.6 529.2 L549.3 523.3 L550.5 522 L551.7 520.9 L552.9 518.7 L554 516.2 L555.2 513.8 L556.4 512.7 L558 519.8 L559.9 523.3 L561.8 517.4 L563 516.6 L564.2 515.5 L565.4 516.4 L566.5 516.9 L567.7 517.7 L568.9 519.8 L570.1 520.5 L571.3 520.9 L572.5 521.5 L573.6 522.1 L574.8 519.4 L576 516.2 L577.4 514.2 L578.8 512.7 L580 514.1 L581.2 515 L582.6 514.8 L584 513.9 L585.2 512.8 L586.4 513.1 L587.9 514 L589.4 516.2 L591 516.1 L592.5 515.5 L594 516.8 L595.4 516.9 L596.8 515.6 L598.2 515 L599.4 516.4 L600.6 517.9 L602.1 518.7 L603.6 519.3 L605.2 518.7 L606.7 518.6 L608.4 519 L610 519.8 L611.4 518.4 L612.8 517.5 L614.3 517.7 L615.9 518.2 L617.5 518.9 L619 519.4 L620.4 519.3 L621.8 519.8 L623.2 519.2 L624.6 518.9 L625.8 518.1 L627 516.5 L628.2 514.3 L629.4 513.5 L631.3 505.2 L632.5 503.9 L633.6 502.4 L635 501.8 L636.5 500.5 L638 499.6 L639.5 499.3 L641 498.1 L642.6 497.6 L644 498.3 L645.4 498.1 L646.8 497.1 L648.3 496.9 L649.8 495.7 L651.3 495.3 L652.8 496 L654.4 496.9 L655.8 497.8 L657.2 498.1 L658.7 498.7 L660.1 500.5 L661.2 499.7 L662.4 499.3 L663.6 498.2 L664.8 497.6 L666.2 507.6 L667.4 509 L668.6 509.4 L669.8 509.6 L670.9 509.9 L672.3 509.8 L673.8 508.7 L675.2 507.7 L676.6 507.6 L677.8 505.6 L679 504 L680.1 503.6 L681.3 502.8 L682.5 505.7 L683.7 507.6 L684.9 508.1 L686.1 508.7 L687.2 507.2 L688.4 506.4 L690 505.3 L691.5 505.2 L693 505.5 L694.6 505.7 L696 505.6 L697.4 506.4 L698.6 505.6 L699.8 504 L701.2 503.3 L702.6 501.7 L703.8 499.5 L705 498.1 L706.1 498.4 L707.3 499.3 L708.5 497.7 L709.7 495.3 L711.6 489.8 L712.8 490.6 L713.9 491 L715.1 489.7 L716.3 487.5 L717.5 488.1 L718.7 489.1 L719.9 487.2 L721 486.3 L722.2 484.8 L723.4 483.9 L725.3 473.3 L726.9 476.9 L728.6 469.8 L730.5 473.3 L732.4 468.6 L734 472.1 L735.2 469 L736.4 465 L737.5 461.4 L738.7 458 L739.9 457.2 L741.1 456.8 L742.3 456.3 L743.5 456.1 L745.1 463.9 L747 459.1 L748.2 457 L749.4 455.1 L750.5 454.3 L751.7 453.7 L752.9 455.2 L754.1 455.6 L755.3 453.9 L756.5 453.2 L757.6 451.4 L758.8 450.9 L760 450.9 L761.2 449.7 L763.1 448.5 L764.7 440.2 L766.4 436.2 L767.5 436.4 L768.7 435.5 L770.6 437.2 L772.5 429.6 L774.2 424.9 L775.4 422.6 L776.5 419 L778.2 414.3 L780.1 407.9 L782 408.8 L783.6 397.7 L785.5 389 L787.2 394.2 L789.1 403.6 L790 400.1 L790.6 400.9 L791.8 399 L793 397.3 L794.2 399.1 L795.4 399.7 L797 409.1 L798.9 412.2 L800.8 408 L802.7 413.1 L804.8 405.6 L806 404.8 L807.2 402.8 L808.4 399.3 L809.5 396.6 L810.7 394.6 L811.9 391.9 L813.1 385.3 L814.3 378.4 L815.5 377.5 L816.6 376.1 L817.8 375.5 L819 374.9 L820.1 373.4 L821.3 372.5 L822.5 367.7 L823.7 363.1 L824.9 360.9 L826.1 359.5 L828 369 L830.1 373.7 L831.2 375.4 L832.4 378.4 L833.6 375 L834.8 371.3 L836 371.6 L837.2 372.5 L838.4 370 L839.5 366.6 L840.7 363 L841.9 360.7 L843.1 358 L844.3 354.1 L845.5 357.4 L846.6 360.2 L847.8 359.3 L849 357.2 L850.1 358.9 L851.3 359.5 L852.5 361.3 L853.7 361.9 L854.9 364.4 L856.1 366.6 L857.2 363.6 L858.4 361.9 L859.6 360.2 L860.8 357.9 L862 356.7 L863.1 356.5 L864.3 357.4 L865.5 358.8 L866.7 357.9 L867.9 356.5 L869 357.2 L870.2 357.9 L871.4 355 L872.6 352.4 L873.8 351.9 L875 350.1 L876.9 353.6 L878 357.2 L879.2 360.7 L880.4 361.7 L881.6 363.1 L882.8 365.7 L883.9 369 L885.8 371.3 L887.7 364.3 L889.8 359.5 L891 361.2 L892.2 361.9 L893.4 360.1 L894.6 358.3 L895.8 358.5 L896.9 357.9 L898.1 359.1 L899.3 360.7 L900.9 369 L902.8 371.3 L904.7 378.4 L906.4 383.1 L908 393.8 L909.9 396.1 L911.3 392.6 L912.8 400.9 L914.6 392.6 L915.8 393.4 L917 395 L918.2 396.8 L919.4 398.5 L920.5 396 L921.7 392.6 L922.9 396.6 L924.1 400.9 L926 405.6 L927.1 401.6 L928.3 397.3 L929.5 399.1 L930.7 399.7 L932.4 390.2 L934 395 L935.9 398.5 L937.8 403.2 L939.4 410.3 L941.1 404.4 L943 409.1 L944.2 405.2 L945.4 400.9 L946.5 403.5 L947.7 405.1 L948.9 402.9 L950.1 402 L951.5 404 L952.9 405.6 L954.1 405.5 L955.3 404.4 L956.5 405 L957.6 406.8 L958.8 406.8 L960 407.5 L960.6 409.8 L961.8 410.3 L963 411.5 L964.6 415.5 L966.1 412.7 L967.7 405.6 L968.9 402.1 L970.1 398.5 L971.2 395.4 L972.4 392.6 L973.6 389.4 L974.8 386.2 L976.5 389.1 L978.3 393.8 L980.2 387.9 L981.4 384.7 L982.6 380.8 L983.8 378.9 L985 378.4 L986.1 376.6 L987.3 376.1 L989 380.1 L990.1 379.9 L991.3 380.8 L992.5 377.3 L993.7 374.9 L995.4 372 L996.5 372.6 L997.7 374.4 L998.9 374.1 L1000.1 372.5 L1001.2 373.6 L1002.4 373.7 L1003.6 374 L1004.8 375.4 L1006 373.4 L1007.2 371.3 L1008.7 368.7 L1010.2 366.6 L1011.9 376.1 L1013.1 377.6 L1014.3 379.6 L1015.5 378.8 L1016.6 378.4 L1017.8 376.6 L1019 374.4 L1020.1 374.2 L1021.3 373.7 L1023.2 380.8 L1024.6 387.9 L1026.1 380.8 L1028 385.5 L1029.2 386.5 L1030.3 387.9 L1032.2 383.1 L1033.9 373.7 L1035.1 370.9 L1036.2 369 L1037.9 363.1 L1039.1 363.5 L1040.2 364.3 L1041.4 361.7 L1042.6 360.2 L1043.8 359.9 L1045 359.5 L1046.2 356.1 L1047.3 352.4 L1048.5 351.7 L1049.7 351.3 L1051.6 347 L1053.5 353.6 L1054.7 352.1 L1055.8 351.7 L1057 353.1 L1058.2 355.5 L1059.4 353.8 L1060.6 352.4 L1061.8 353.1 L1062.9 353.6 L1064.1 352.6 L1065.3 350.8 L1066.4 351.1 L1067.6 351.7 L1069.3 344.6 L1070.5 346.2 L1071.7 347 L1072.8 346.9 L1074 346.5 L1075.2 349 L1076.4 351.7 L1077.6 354.8 L1078.7 358.3 L1079.9 357.4 L1081.1 356.5 L1082.3 358.3 L1083.5 359.5 L1084.7 358.6 L1085.8 357.9 L1087.5 364.3 L1089.4 359.5 L1090.6 359.4 L1091.7 358.8 L1093.6 370.2 L1095.3 373 L1096.4 371.7 L1097.6 370.6 L1099.3 374.9 L1100.5 373.1 L1101.7 372 L1103.5 376.1 L1104.7 376.7 L1105.9 377.2 L1107.1 376.1 L1108.3 374.4 L1109.4 371.5 L1110.6 369.7 L1112 369.2 L1113.5 369 L1114.7 371.8 L1115.8 374.9 L1117 376 L1118.2 376.1 L1119.4 375.9 L1120.6 374.4 L1121.8 377.4 L1122.9 380.8 L1124.1 384.3 L1125.3 386.7 L1126.4 386.9 L1127.6 386.2 L1128.8 384 L1130 382.4 L1131.2 383.6 L1132.3 385 L1133.4 383.7 L1134.6 383.5 L1136.5 387.8 L1138.4 400.8 L1139.6 400 L1140.8 398.4 L1141.9 397.5 L1143.1 396.1 L1144.3 395.8 L1145.5 394.4 L1146.7 394.1 L1147.9 393 L1149.5 396.8 L1151.2 387.8 L1152.3 385.7 L1153.5 383.1 L1154.7 382.2 L1155.9 380.7 L1157.8 385 L1159.7 386.6 L1161.6 380.7 L1163.5 389 L1165.4 392.5 L1167.2 396.1 L1169.1 393.7 L1171 392.5 L1172.9 385.4 L1174.8 380.7 L1176.7 389 L1178.6 393.7 L1180.5 391.3 L1182.4 387.8 L1184.3 393.7 L1186.1 394.4 L1188 389 L1189.2 387.9 L1190.4 386.6 L1192.3 387.8 L1193.4 385.8 L1194.6 385 L1195.8 383 L1197 380.7 L1198.2 377.7 L1199.4 376 L1201.5 374.8 L1203.1 377.9 L1204.3 376.7 L1205.5 376.5 L1207.4 380.7 L1209.3 385 L1210.5 385.8 L1211.7 385.9 L1213.5 390.2 L1214.7 389 L1215.9 389 L1217.1 388.8 L1218.3 389.7 L1220.4 387.3 L1221.6 387.6 L1222.8 389 L1223.9 391 L1225.1 392 L1226.3 390.9 L1227.5 390.6 L1229.1 394.4 L1231 392.5 L1232.9 394.9 L1234.6 392.5 L1235.7 397.2 L1237.2 400.8 L1238.6 409.1 L1239.5 413.8 L1240.9 418.5 L1242.8 413.3 L1244 414.3 L1245.2 416.6 L1246.4 415.9 L1247.6 414.3 L1248.8 415.3 L1249.9 417.3 L1251.1 417 L1252.3 415.7 L1253.4 417.3 L1254.6 418.5 L1256.5 417.3 L1258.2 411.9 L1259.4 410.2 L1260.8 415.7 L1262.9 414.3 L1264.1 413.6 L1265.3 411.9 L1266.9 413.3 L1268.8 417.3 L1270.2 423.2 L1271.7 432.7 L1272.6 440.9 L1274 444.5 L1275.4 453.9 L1276.9 449.2 L1278.7 446.9 L1280.6 448 L1281.8 446.9 L1283 444.5 L1284.9 448 L1286.1 449.7 L1287.2 451.1 L1288.4 452.7 L1289.6 453.5 L1290.8 451 L1292 449.7 L1293.2 447.2 L1294.3 444 L1296.2 445.7 L1297.6 450.4 L1299.1 452.8 L1300 450.4 L1300.8 447.5 L1302.5 445.8 L1303.7 441.7 L1305 437 L1306.7 438 L1308.3 440 L1310 439.7 L1311.3 446.3 L1312.5 440 L1313.7 435.3 L1315.3 435.8 L1317 437.5 L1318.7 438.7 L1320.3 440.3 L1322 437.5 L1323.7 438 L1325.3 435.3 L1327 434.2 L1328.7 433.3 L1330.3 434.2 L1332 436.3 L1333.3 439.2 L1334 447 L1335.3 444.7 L1336.4 444.5 L1337.5 444.2 L1339.3 444.7 L1340.3 449.2 L1342 452 L1343.7 450.8 L1345.3 451.3 L1347 450.3 L1348.1 451.3 L1349.2 451.7 L1350.3 454.7 L1351.3 455.8 L1352.5 453.3 L1353.7 444.7 L1355 443 L1356.3 441.7 L1357.3 449.2 L1358.7 449.7 L1360 452 L1361.7 451.3 L1363 453.7 L1364.2 456.7 L1365.3 457.5 L1366.7 453.7 L1368.3 456.3 L1370 454.7 L1371.7 453.3 L1373.3 453.7 L1375 455.3 L1376.7 449.7 L1378.3 450.3 L1380 452.5 L1382 454.2 L1383.7 455.3 L1385.3 453.7 L1387 455 L1388.7 453 L1390.3 454.7 L1392 455.3 L1393.7 454.2 L1395.3 453 L1396.7 449.2 L1398 448 L1399.3 449.2 L1400.7 447.5 L1402.3 448.7 L1404 449.2 L1405.3 450 L1406.3 445.3 L1407.5 445.8 L1408.7 448.7 L1409.3 456.7 L1410 465.8 L1410.7 470.8 L1411.3 463 L1412.3 464.2 L1413.3 468 L1414.7 467 L1415.8 465.8 L1417 467 L1418.3 466.7 L1419.7 466.3"/>
<path class="ln" stroke="#0000f4" stroke-width="1.8" d="M81.1 610.2 L82.6 607.3 L84.6 606.3 L86.5 607.3 L88.5 604.4 L90.4 603.4 L92.4 604 L94.3 602.9 L96.2 603.4 L98.2 602.5 L100.1 602.9 L102.1 600.1 L103.4 603.4 L105 605.4 L106.2 605.4 L107.3 606 L108.5 604.7 L109.8 604.4 L111.3 604.5 L112.8 604.8 L114.2 605 L115.7 606 L117.2 605.5 L118.6 606 L120 605.6 L121.5 605.4 L123 605.4 L124.4 604.4 L125.6 603.8 L126.8 602.5 L128.3 599.5 L129.9 594.7 L131.2 586.9 L132.6 585 L134.5 585.9 L136.1 581.1 L137.6 578.2 L139.6 577.2 L140.8 577 L141.9 576.2 L143.9 577.2 L145.8 576.2 L147.8 575.2 L149.7 577.2 L151.6 576.2 L152.8 576.9 L154 578.2 L155.5 582.1 L156.7 582.1 L157.9 582.1 L159.8 581.1 L161 574.3 L162.9 572.3 L164.1 571.4 L165.2 571 L167.2 573.3 L169.1 575.2 L170.3 575.3 L171.5 576.2 L172.8 575.2 L174 575.2 L175.9 580.1 L177.9 579.5 L179.8 581.1 L181.2 586.9 L182.4 588.9 L183.7 582.1 L185.1 575.2 L186.6 570.4 L188.6 563.6 L190.5 560.7 L191.9 560.1 L193.4 560.1 L194.9 561.4 L196.3 561.6 L197.5 562.5 L198.7 562.6 L200.6 559.7 L201.9 559.6 L203.2 558.7 L204.6 559.6 L206.1 559.7 L207.6 559.5 L209 560.1 L210.9 556.8 L212.2 555.1 L213.5 553.9 L214.7 553.9 L215.8 553.5 L217.2 554 L218.7 553.9 L220.1 558.7 L221.3 560.1 L222.6 560.7 L224.5 561.6 L226.5 557.8 L228.4 555.8 L230.4 558.7 L232.3 557.8 L233.8 558.1 L235.2 557.4 L236.4 558.1 L237.6 559.7 L238.8 561.3 L240.1 562.6 L241.6 563.3 L243 563.6 L244.4 563.4 L245.9 563.2 L247.3 563.1 L248.6 563.7 L250 564 L251.2 564.1 L252.4 565.1 L253.6 564.2 L254.7 562.3 L256.6 560.4 L257.8 562 L259 562.8 L260.1 563.6 L261.3 564.2 L262.5 563.6 L263.7 563.5 L264.9 565.1 L266.1 565.8 L267.2 566.2 L268.4 566.5 L269.6 567.2 L270.8 567 L272.9 569.4 L274.8 567 L276 565.7 L277.2 563.5 L278.3 555.2 L279.5 552.8 L280.7 552.8 L281.9 552.7 L283.1 552.8 L284.3 552.8 L285.4 552.5 L286.6 552.4 L287.8 551.8 L289 551.7 L290.2 551.7 L291.4 552.9 L292.5 553.3 L293.7 552.6 L294.9 552.4 L296.1 552.8 L297.6 552.4 L299.1 551.7 L300.6 552.2 L302 553.3 L303.2 553.8 L304.3 554.2 L305.5 554.7 L306.7 554.8 L307.9 556 L309.1 555.7 L310.3 555.6 L311.4 556.1 L312.6 556.4 L313.8 556 L314.9 556.6 L316.1 556.4 L317.3 555.9 L318.5 555.8 L319.7 555.7 L320.9 556.2 L322 556 L323.2 556.4 L324.4 555.9 L325.6 555.2 L326.8 556.1 L327.9 555.5 L329.1 556.4 L330.8 558.7 L332.2 565.8 L333.6 565.6 L335 566.5 L336.2 565.9 L337.4 566.4 L338.6 565.8 L340.1 566.3 L341.7 566.5 L343.3 562.3 L344.5 566.5 L345.9 566.7 L347.3 567.5 L348.9 567 L350.4 567 L351.9 566.9 L353.5 567.5 L355.1 568.9 L356.3 567.7 L357.5 566.5 L359.1 565 L360.6 564.6 L362 564.3 L363.4 563.5 L364.8 564.8 L366.2 565.1 L367.8 565.4 L369.3 564.6 L370.9 563.7 L372.4 562.3 L373.8 562.3 L375.2 561.1 L376.4 560.1 L377.5 560 L378.7 559.9 L379.9 561.4 L381.1 561.8 L382.3 563 L383.5 563.5 L384.6 563.4 L385.8 563.5 L387 562 L388.2 559.4 L389.4 559.2 L390.6 558.7 L391.8 556.1 L392.9 552.8 L394.1 548 L395.3 543.4 L396.5 542.4 L397.6 542.2 L398.8 541.7 L400 541 L401.2 541 L402.4 540.2 L403.5 540.3 L404.7 539.1 L405.9 538.6 L407.1 537.9 L408.3 538.2 L409.5 536.5 L410.6 535.8 L411.8 535.9 L413 536.8 L414.2 536.9 L415.4 536.3 L416.8 535.5 L418.2 535.1 L419.8 535.2 L421.3 535.8 L422.8 534.6 L424.3 534.4 L425.8 534.7 L427.2 533.9 L428.6 533.6 L430 533.5 L431.2 531 L432.4 529.2 L434.3 520.9 L435.5 520 L436.6 520.2 L437.8 521.8 L439 524.5 L440.1 523.2 L441.3 522.6 L442.5 524 L443.7 525 L444.9 524.1 L446.1 524 L447.2 522.5 L448.4 522.1 L449.6 521.5 L450.8 520.9 L452.2 521.4 L453.6 522.6 L454.8 522.7 L456 521.7 L457.9 524 L459 521.6 L460.2 520.2 L461.4 519.8 L462.6 519.3 L463.8 519.3 L465 518.6 L466.1 517.3 L467.3 516.2 L469 517.9 L470.6 523.3 L471.8 524.5 L473 524.5 L474.2 524.7 L475.4 525 L477.2 526.9 L478.4 528 L479.6 529.7 L480.8 527.6 L482 525.7 L483.4 524.3 L484.8 524 L486.4 523.6 L487.9 523.3 L489.4 523.3 L490.9 524 L492.1 523.8 L493.3 522.6 L494.5 520.4 L495.7 517.4 L496.9 515 L498 512.7 L499.2 509.8 L500.4 508 L501.6 506.8 L502.8 506.1 L504.2 506.1 L505.6 506.8 L506.8 506.1 L508 506.1 L509.1 506.5 L510.3 507.5 L512.2 500.9 L513.9 491.9 L515 491.5 L516.2 490.2 L517.4 486.8 L518.6 484.3 L519.8 484.4 L520.9 485.5 L522.1 483.7 L523.3 480.8 L524.5 479.1 L525.7 477.2 L527.3 478.4 L529.2 483.1 L531.1 482 L532.8 489.1 L534.4 484.8 L535.6 483.7 L536.8 481.5 L538 480.4 L539.1 479.6 L540.3 480.3 L541.5 480.1 L542.7 480 L543.9 479.6 L545 482.9 L546.2 485.5 L547.4 483.4 L548.6 480.8 L549.8 479.9 L550.9 479.1 L552.1 479.1 L553.3 480.1 L555.2 485.5 L556.4 486.4 L557.6 487.9 L558.8 489.8 L559.9 490.9 L561.1 489.9 L562.3 487.9 L563.5 487.2 L564.6 485.5 L565.8 486.5 L567 487.9 L568.2 488.7 L569.4 489.1 L571.3 491.9 L572.9 495 L574.1 492.4 L575.3 489.1 L576.5 490.2 L577.6 490.9 L579.3 488.6 L581.2 491.9 L582.4 492 L583.5 491.4 L584.7 489.1 L585.9 486.7 L587.1 485.7 L588.3 484.3 L589.5 482.2 L590.6 479.6 L591.8 480.3 L593 481.5 L594.2 481.7 L595.4 480.8 L596.8 482.1 L598.2 482.4 L599.8 481.4 L601.3 481.5 L602.5 481.7 L603.6 480.8 L604.8 480.5 L606 479.1 L607.1 480.2 L608.3 480.8 L610 480.8 L611.4 481.6 L612.8 483.5 L614.3 484.8 L615.9 485.1 L617.5 485.9 L619 487.5 L620.1 489.2 L621.3 489.8 L622.5 491.2 L623.7 492.2 L624.9 491.3 L626.1 491.5 L627.2 489.9 L628.4 489.1 L630.1 491 L631.7 496.9 L632.9 497.7 L634.1 498.1 L635.3 497.6 L636.5 496.9 L638.3 498.1 L639.5 497.2 L640.7 495.7 L642.6 488.7 L643.8 488 L645 486.3 L646.1 484.2 L647.3 482.8 L648.5 483.4 L649.7 485.1 L650.9 484.5 L652 482.8 L653.2 481.8 L654.4 482 L655.6 484 L656.8 485.1 L658 486.4 L659.1 488.7 L660.8 495.7 L662.4 501.7 L664.3 491 L665.5 492 L666.7 492.2 L667.9 494.1 L669.1 495.3 L670.9 496.9 L672.1 496.2 L673.3 494.6 L674.7 494.3 L676.1 493.9 L678 491 L679.7 487.5 L681.3 489.1 L682.8 495.7 L684 495.6 L685.1 494.6 L686.3 495 L687.5 496.2 L688.6 496.8 L689.8 496.9 L691.5 502.8 L692.7 501.4 L693.9 500.5 L695 499.2 L696.2 496.9 L697.4 495.5 L698.6 493.4 L699.8 494 L700.9 494.6 L702.1 492.8 L703.3 491 L704.5 489.5 L705.7 489.1 L706.9 488.1 L708 488.2 L709.2 489.1 L710.4 489.8 L711.6 487.8 L712.8 485.8 L714 488.8 L715.1 491 L716.3 492.1 L717.5 492.9 L718.6 490.9 L719.8 489.8 L721 490.2 L722.2 491 L723.4 492.3 L724.6 492.9 L725.8 490.2 L726.9 487.5 L728.1 484.6 L729.3 482.8 L730.5 482.8 L731.7 482 L732.9 483.1 L734 483.5 L735.2 482.7 L736.4 482.8 L737.5 483.4 L738.7 483.9 L739.9 480.8 L741.1 478 L742.8 475.7 L744 477.5 L745.1 478.7 L746.3 480.5 L747.5 482.8 L749.4 474.5 L751.3 472.1 L752.9 463.9 L754.6 458 L756.5 459.8 L757.6 458.3 L758.8 457.5 L760 456.3 L761.2 455.1 L762.4 453.3 L763.5 450.4 L764.7 452.3 L765.9 455.1 L767.1 452.5 L768.3 450.9 L769.5 452 L770.6 452.8 L771.8 452.3 L773 450.9 L774.2 450.7 L775.4 450.4 L776.5 449.6 L777.7 449 L778.9 450.4 L780.1 450.9 L781.2 449.8 L782.4 448 L783.6 446.5 L784.8 446.1 L786 445.2 L787.2 443.3 L788.6 450.4 L790 450.9 L790.6 451.7 L791.8 451.9 L793 452.8 L794.6 449.3 L796.5 452.8 L797.7 453.5 L798.9 454.7 L800.1 454.2 L801.3 452.8 L802.5 451.6 L803.6 450.5 L804.8 451.1 L806 450.9 L807.1 452.4 L808.3 454.7 L809.5 454.2 L810.7 452.8 L811.9 451.3 L813.1 450.5 L814.2 448.3 L815.4 446.9 L816.6 446.5 L817.8 446.2 L819 445.6 L820.2 445.3 L821.4 445.8 L822.5 446.2 L823.7 447 L824.9 446.9 L826 447.5 L827.2 447.6 L828.4 445.3 L829.6 446.7 L830.8 449.3 L832 450.3 L833.1 451.7 L834.3 451.8 L835.5 451.7 L836.7 451.7 L837.9 452.2 L839 452.1 L840.2 452.4 L841.4 451.7 L842.6 451.6 L843.8 451.7 L845 451.9 L846.1 451 L847.3 450.9 L848.8 452.2 L850.4 452.8 L852 458.7 L853.7 463.5 L854.9 462.9 L856.1 461.1 L857.5 456.4 L858.6 457.7 L859.8 458.7 L861.5 462.3 L863.1 464.6 L864.6 469.4 L865.8 467.8 L866.9 465.8 L868.1 465.3 L869.3 464.6 L870.7 463.5 L872.1 462.8 L873.3 464 L874.5 464.2 L875.7 462.6 L876.9 461.1 L878 461.2 L879.2 460.4 L880.4 461.4 L881.6 462.8 L882.8 464.7 L883.9 465.8 L885.1 465.5 L886.3 464.6 L887.5 465.7 L888.7 466.5 L890.6 469.4 L892 471.7 L893.9 465.1 L895 464.2 L896.2 463.5 L897.8 463.4 L899.3 464.2 L900.8 463.8 L902.4 462.8 L904 458.7 L905.2 454 L906.4 453.2 L907.6 452.8 L909 453.2 L910.4 453.3 L911.6 452.1 L912.8 451.7 L914 451.7 L915.1 452.8 L916.3 451 L917.5 450 L919.4 445.7 L920.5 445.9 L921.7 445.3 L923.2 445.1 L924.6 445.7 L926.1 445.6 L927.6 444.6 L928.8 443.2 L930 442.2 L931.2 441.1 L932.4 439.8 L933.5 441.2 L934.7 442.9 L935.9 442.7 L937.1 442.2 L938.2 442.3 L939.4 443.4 L940.6 444.2 L941.8 445.3 L943 446.3 L944.2 446.2 L945.4 445 L946.5 444.6 L947.7 443 L948.9 441 L950.1 441 L951.3 441.5 L952.5 442.5 L953.6 443.9 L954.8 443.7 L956 444.6 L957.1 444.4 L958.3 445.3 L960 445.7 L960.6 446.9 L961.8 445.9 L963 443.9 L964.2 443.8 L965.4 442.9 L966.5 442.9 L967.7 442.2 L968.9 442.9 L970.1 442.9 L971.2 442.5 L972.4 441 L974 440.6 L975.5 441 L976.7 440.2 L977.9 439.1 L979.5 434.4 L980.7 433.9 L981.9 433.5 L983.5 433.8 L985 433.9 L986.4 434.2 L987.8 433.5 L989.2 433.5 L990.6 432.8 L992.2 433.9 L993.7 433.9 L994.9 433.2 L996.1 433.5 L997.2 435.3 L998.4 436.8 L999.6 437.7 L1000.8 438.2 L1002 437.3 L1003.1 435.8 L1004.7 435.2 L1006.2 434.4 L1007.4 434 L1008.6 432.8 L1010.2 431.6 L1011.4 432.8 L1012.6 434.4 L1013.8 435.6 L1015 435.8 L1016.1 436.9 L1017.3 438.2 L1018.5 437.4 L1019.7 436.3 L1020.9 438.5 L1022 439.8 L1023.5 440.9 L1025.1 441.5 L1026.5 440.8 L1028 440.6 L1029.4 439.9 L1030.8 439.8 L1032.3 439.2 L1033.9 439.1 L1035.1 438.5 L1036.2 437.5 L1037.4 437.2 L1038.6 435.8 L1040.2 435.9 L1041.7 435.1 L1043.1 434.6 L1044.5 434.4 L1045.7 435.2 L1046.9 436.3 L1048.1 438.1 L1049.2 439.1 L1050.4 439.6 L1051.6 440.6 L1052.8 438.9 L1053.9 437.5 L1055.1 434.6 L1056.3 432.8 L1057.5 431.2 L1058.7 430.4 L1059.8 430.1 L1061 429.7 L1062.9 432 L1064.6 437.5 L1065.8 438.1 L1066.9 438.2 L1068.1 439.7 L1069.3 441 L1070.5 441.8 L1071.7 442.9 L1072.8 442.7 L1074 441.5 L1075.2 440.8 L1076.4 439.8 L1077.9 438.2 L1079.4 437.5 L1080.6 438.5 L1081.8 440.6 L1083 440.8 L1084.2 439.8 L1085.3 442.2 L1086.5 443.4 L1087.7 445.3 L1088.9 446.2 L1090.1 445.9 L1091.3 445.3 L1092.4 444.7 L1093.6 444.6 L1094.8 446.5 L1096 449.3 L1097.6 452.8 L1098.8 453.7 L1100 455.2 L1101.2 457 L1102.4 459.4 L1103.6 462 L1104.7 463.5 L1106.4 459.4 L1107.6 459.5 L1108.7 458.7 L1109.9 458.5 L1111.1 457.6 L1113 460.4 L1114.2 457.4 L1115.4 455.2 L1116.8 456.6 L1118.2 458.7 L1119.4 457.3 L1120.6 456.4 L1121.8 457.5 L1122.9 457.6 L1124.1 458.6 L1125.3 460.4 L1126.4 461.1 L1127.6 461.1 L1128.8 460.7 L1130 459.9 L1130.6 459.8 L1131.8 460.3 L1133 460.6 L1134.2 460.8 L1135.4 459.8 L1136.6 459.9 L1137.7 460.6 L1139.2 460.6 L1140.8 460.6 L1141.9 458.6 L1143.1 457.5 L1144.3 455.2 L1145.5 453.9 L1146.7 454.3 L1147.9 455.8 L1149.1 456.4 L1150.2 457.5 L1152.1 455.1 L1153.5 452 L1155.4 452.8 L1157.3 453.9 L1159 457.5 L1160.6 459.1 L1162.5 458.7 L1164.4 460.6 L1166.3 459.1 L1168.2 463.4 L1169.6 468.1 L1171 471.7 L1172.4 472.4 L1173.9 481.1 L1174.8 489.4 L1175.7 479.4 L1176.8 479.4 L1177.9 480.4 L1179.1 481.4 L1180.2 483.5 L1181.4 482.9 L1182.6 481.1 L1183.8 481.4 L1185 482.3 L1186.2 484.2 L1187.3 485.1 L1188.5 484.2 L1189.7 482.8 L1191.6 487.5 L1193.7 484.2 L1195.6 485.8 L1197.5 481.8 L1199.4 478.7 L1201.5 483.5 L1202.7 484.3 L1203.9 484.6 L1205.5 481.1 L1206.7 480.4 L1207.9 479.4 L1209.8 478 L1211.2 474 L1213.1 477.6 L1215 480.4 L1216.9 482.3 L1218.3 478.7 L1220.4 482.3 L1222 485.1 L1223.2 485.4 L1224.4 484.6 L1225.6 484.2 L1226.8 482.8 L1228.7 483.5 L1230.6 479.9 L1232.4 477.6 L1234.3 478.7 L1236.2 476.4 L1238.1 474 L1240 475.2 L1241.7 472.4 L1243.3 474 L1244.5 472.4"/>
<line x1="80.5" x2="80.5" y1="50" y2="621" stroke="#555555" stroke-width="1"/>
<line x1="80" x2="1420" y1="620.5" y2="620.5" stroke="#555555" stroke-width="1"/>
<text class="title" y="24.4"><tspan x="29.78" textLength="60.41" lengthAdjust="spacingAndGlyphs">BTC</tspan> <tspan x="99.68" textLength="79.13" lengthAdjust="spacingAndGlyphs">Price</tspan> <tspan x="187.55" textLength="202.82" lengthAdjust="spacingAndGlyphs">Performance</tspan> <tspan x="398.7" textLength="84.13" lengthAdjust="spacingAndGlyphs">Since</tspan> <tspan x="491.7" textLength="84.83" lengthAdjust="spacingAndGlyphs">Cycle</tspan> <tspan x="585.16" textLength="59.68" lengthAdjust="spacingAndGlyphs">Low</tspan></text>
<text class="yl" x="39.0" y="71.4" textLength="37.41" lengthAdjust="spacingAndGlyphs">500x</text>
<text class="yl" x="39.6" y="151.7" textLength="36.81" lengthAdjust="spacingAndGlyphs">200x</text>
<text class="yl" x="40.75" y="212.5" textLength="35.67" lengthAdjust="spacingAndGlyphs">100x</text>
<text class="yl" x="49.3" y="273.2" textLength="27.47" lengthAdjust="spacingAndGlyphs">50x</text>
<text class="yl" x="49.3" y="353.5" textLength="27.47" lengthAdjust="spacingAndGlyphs">20x</text>
<text class="yl" x="50.56" y="414.2" textLength="26.2" lengthAdjust="spacingAndGlyphs">10x</text>
<text class="yl" x="59.6" y="475.0" textLength="16.48" lengthAdjust="spacingAndGlyphs">5x</text>
<text class="yl" x="59.6" y="555.3" textLength="16.48" lengthAdjust="spacingAndGlyphs">2x</text>
<text class="yl" x="61.72" y="616.0" textLength="14.42" lengthAdjust="spacingAndGlyphs">1x</text>
<text class="xl" x="13.0" y="639.5" textLength="135.27" lengthAdjust="spacingAndGlyphs">Global Cycle Low</text>
<text class="xl" x="209.5" y="639.5" textLength="82.78" lengthAdjust="spacingAndGlyphs">+6 Months</text>
<text class="xl" x="377.0" y="639.5" textLength="88.92" lengthAdjust="spacingAndGlyphs">+12 Months</text>
<text class="xl" x="547.0" y="639.5" textLength="88.92" lengthAdjust="spacingAndGlyphs">+18 Months</text>
<text class="xl" x="716.2" y="639.5" textLength="91.71" lengthAdjust="spacingAndGlyphs">+24 Months</text>
<text class="xl" x="887.0" y="639.5" textLength="91.91" lengthAdjust="spacingAndGlyphs">+30 Months</text>
<text class="xl" x="1057.5" y="639.5" textLength="91.41" lengthAdjust="spacingAndGlyphs">+36 Months</text>
<text class="xl" x="1227.5" y="639.5" textLength="91.91" lengthAdjust="spacingAndGlyphs">+42 Months</text>
<text class="an" x="641.2" y="90.8" textLength="110.37" lengthAdjust="spacingAndGlyphs" style="fill:#0a0b0d;stroke:#0a0b0d">2011 to 2015 Cycle</text>
<text class="an" x="1181.0" y="231.7" textLength="113.82" lengthAdjust="spacingAndGlyphs" style="fill:#999999;stroke:#999999">2015 to 2018 Cycle</text>
<text class="an" x="751.0" y="345.0" textLength="115.43" lengthAdjust="spacingAndGlyphs" style="fill:#90b3fc;stroke:#90b3fc">2018 to 2022 Cycle</text>
<text class="an" x="881.9" y="500.0" textLength="76.36" lengthAdjust="spacingAndGlyphs" style="fill:#0000ff;stroke:#0000ff">2022+ Cycle</text>
<text class="an2" y="477.0" style="fill:#0a0b0d;stroke:#0a0b0d"><tspan x="1247.2" textLength="10.8" lengthAdjust="spacingAndGlyphs">—</tspan> <tspan x="1260.8" textLength="62.52" lengthAdjust="spacingAndGlyphs">We are here</tspan></text>
<text class="lg" x="436.2" y="688.8" textLength="139.95" lengthAdjust="spacingAndGlyphs">2011 to 2015 Cycle</text>
<text class="lg" x="622.0" y="688.8" textLength="143.13" lengthAdjust="spacingAndGlyphs">2015 to 2018 Cycle</text>
<text class="lg" x="811.2" y="688.8" textLength="145.93" lengthAdjust="spacingAndGlyphs">2018 to 2022 Cycle</text>
<text class="lg" x="1002.5" y="688.8" textLength="95.79" lengthAdjust="spacingAndGlyphs">2022+ Cycle</text>
<text class="src" x="29.8" y="716.9" textLength="128.48" lengthAdjust="spacingAndGlyphs">Source: Glassnode</text>

<line x1="400.5" x2="430.5" y1="682.8" y2="682.8" stroke="#000" stroke-width="4.6"/>
<line x1="587" x2="617" y1="682.8" y2="682.8" stroke="#a0a0a0" stroke-width="4.6"/>
<line x1="776.2" x2="805.8" y1="682.8" y2="682.8" stroke="#9bb9fa" stroke-width="4.6"/>
<line x1="967.5" x2="997.5" y1="682.8" y2="682.8" stroke="#0000f0" stroke-width="4.6"/>
</svg>
</body></html>
